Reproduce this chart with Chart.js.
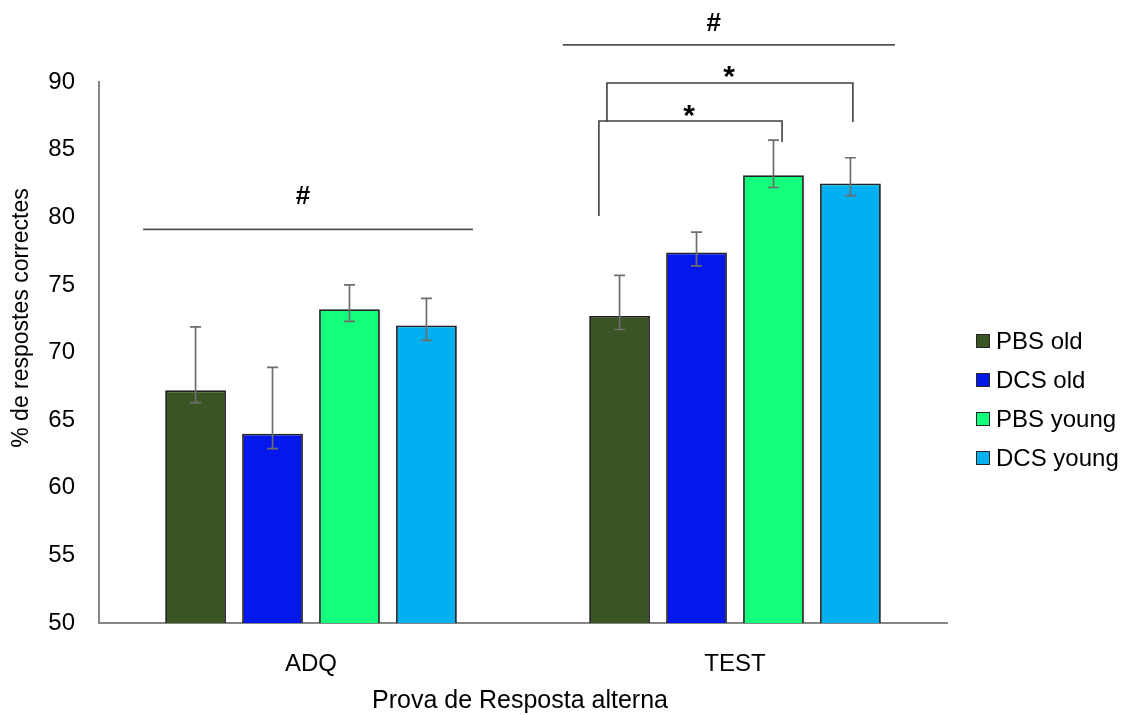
<!DOCTYPE html>
<html>
<head>
<meta charset="utf-8">
<script src="https://cdn.jsdelivr.net/npm/chart.js@4.4.1/dist/chart.umd.min.js"></script>
<style>
  html, body { margin: 0; padding: 0; background: #ffffff; }
  #wrap { width: 1126px; height: 715px; position: relative; }
</style>
</head>
<body>
<div id="wrap"><canvas id="chart" width="1126" height="715"></canvas></div>
<script>
// Categories and series
const categories = ['ADQ', 'TEST'];
const seriesNames = ['PBS old', 'DCS old', 'PBS young', 'DCS young'];
const seriesColors = ['#3a5424', '#0418ec', '#14ff7c', '#00b0f0'];

// Mean % of correct answers
const pbsOld   = [67.2, 72.7];
const dcsOld   = [64.0, 77.4];
const pbsYoung = [73.2, 83.1];
const dcsYoung = [72.0, 82.5];

// Error bar extents (above / below the mean)
const pbsOldErrUp     = [4.7, 3.0];
const pbsOldErrDown   = [0.9, 1.0];
const dcsOldErrUp     = [4.9, 1.5];
const dcsOldErrDown   = [1.1, 1.0];
const pbsYoungErrUp   = [1.8, 2.6];
const pbsYoungErrDown = [0.9, 0.9];
const dcsYoungErrUp   = [2.0, 1.9];
const dcsYoungErrDown = [1.1, 0.9];

// Y axis ticks
const yTicks = [50, 55, 60, 65, 70, 75, 80, 85, 90];

// Significance markers: x in category units, y in axis units
const hashLines = [
  { x0: -0.396, x1: 0.382, y: 79.1, labelX: -0.019, labelY: 81.5 },
  { x0: 0.594, x1: 1.377, y: 92.75, labelX: 0.95, labelY: 94.3 }
];
const brackets = [
  { x0: 0.698, x1: 1.278, y: 89.93, leftEnd: 87.04, rightEnd: 87.04, labelX: 0.986, labelY: 90.3 },
  { x0: 0.679, x1: 1.111, y: 87.12, leftEnd: 80.09, rightEnd: 85.56, labelX: 0.892, labelY: 87.45 }
];

const seriesValues = [pbsOld, dcsOld, pbsYoung, dcsYoung];
const errUp = [pbsOldErrUp, dcsOldErrUp, pbsYoungErrUp, dcsYoungErrUp];
const errDown = [pbsOldErrDown, dcsOldErrDown, pbsYoungErrDown, dcsYoungErrDown];

const FONT = '"Liberation Sans", Arial, sans-serif';

const datasets = seriesNames.map((name, i) => ({
  label: name,
  data: seriesValues[i],
  backgroundColor: seriesColors[i],
  borderColor: '#222222',
  borderWidth: 1.8,
  categoryPercentage: 0.726,
  barPercentage: 0.79,
  errUp: errUp[i],
  errDown: errDown[i]
}));

function catX(xScale, f) {
  const p0 = xScale.getPixelForValue(0);
  const p1 = xScale.getPixelForValue(1);
  return p0 + f * (p1 - p0);
}

const errorBars = {
  id: 'errorBars',
  afterDatasetsDraw(chart) {
    const ctx = chart.ctx;
    const y = chart.scales.y;
    ctx.save();
    ctx.strokeStyle = '#6e6e6e';
    ctx.lineWidth = 1.7;
    chart.data.datasets.forEach((ds, di) => {
      const meta = chart.getDatasetMeta(di);
      meta.data.forEach((bar, i) => {
        const v = ds.data[i];
        const yt = y.getPixelForValue(v + ds.errUp[i]);
        const yb = y.getPixelForValue(v - ds.errDown[i]);
        const cx = bar.x;
        ctx.beginPath();
        ctx.moveTo(cx, yt); ctx.lineTo(cx, yb);
        ctx.moveTo(cx - 5.5, yt); ctx.lineTo(cx + 5.5, yt);
        ctx.moveTo(cx - 5.5, yb); ctx.lineTo(cx + 5.5, yb);
        ctx.stroke();
      });
    });
    ctx.restore();
  }
};

const extras = {
  id: 'extras',
  afterDraw(chart) {
    const ctx = chart.ctx;
    const xs = chart.scales.x, ys = chart.scales.y;
    ctx.save();

    // "#" lines
    hashLines.forEach(h => {
      ctx.strokeStyle = '#505050';
      ctx.lineWidth = 1.8;
      const yy = ys.getPixelForValue(h.y);
      ctx.beginPath();
      ctx.moveTo(catX(xs, h.x0), yy); ctx.lineTo(catX(xs, h.x1), yy);
      ctx.stroke();
      ctx.fillStyle = '#000';
      ctx.font = 'bold 26px ' + FONT;
      ctx.textAlign = 'center'; ctx.textBaseline = 'middle';
      ctx.fillText('#', catX(xs, h.labelX), ys.getPixelForValue(h.labelY));
    });

    // "*" brackets
    brackets.forEach(b => {
      ctx.strokeStyle = '#404040';
      ctx.lineWidth = 1.6;
      const yy = ys.getPixelForValue(b.y);
      const xl = catX(xs, b.x0), xr = catX(xs, b.x1);
      ctx.beginPath();
      ctx.moveTo(xl, ys.getPixelForValue(b.leftEnd)); ctx.lineTo(xl, yy);
      ctx.lineTo(xr, yy); ctx.lineTo(xr, ys.getPixelForValue(b.rightEnd));
      ctx.stroke();
      ctx.fillStyle = '#000';
      ctx.font = 'bold 30px ' + FONT;
      ctx.textAlign = 'center'; ctx.textBaseline = 'middle';
      ctx.fillText('*', catX(xs, b.labelX), ys.getPixelForValue(b.labelY));
    });

    // Axis titles
    ctx.fillStyle = '#000';
    ctx.font = '25px ' + FONT;
    ctx.textAlign = 'center'; ctx.textBaseline = 'middle';
    ctx.fillText('Prova de Resposta alterna', 520, 701);
    ctx.font = '23px ' + FONT;
    ctx.save();
    ctx.translate(22, 318);
    ctx.rotate(-Math.PI / 2);
    ctx.fillText('% de respostes correctes', 0, 0);
    ctx.restore();

    // Legend
    chart.data.datasets.forEach((ds, i) => {
      const cy = 341 + i * 39;
      ctx.fillStyle = ds.backgroundColor;
      ctx.fillRect(976, cy - 7, 14, 14);
      ctx.strokeStyle = '#262626';
      ctx.lineWidth = 1;
      ctx.strokeRect(976.5, cy - 6.5, 13, 13);
      ctx.fillStyle = '#000';
      ctx.font = '24px ' + FONT;
      ctx.textAlign = 'left'; ctx.textBaseline = 'middle';
      ctx.fillText(ds.label, 996, cy + 1);
    });
    ctx.restore();
  }
};

new Chart(document.getElementById('chart'), {
  type: 'bar',
  data: { labels: categories, datasets },
  plugins: [errorBars, extras],
  options: {
    responsive: false,
    animation: false,
    layout: { padding: { left: 0, top: 82, right: 179, bottom: 0 } },
    plugins: { legend: { display: false }, tooltip: { enabled: false } },
    scales: {
      x: {
        grid: { display: false, drawTicks: false },
        border: { display: true, color: '#868686', width: 2 },
        ticks: { color: '#000', font: { family: FONT, size: 24 }, padding: 27 },
        afterFit(scale) { scale.height = 92; }
      },
      y: {
        min: 50, max: 90,
        grid: { display: false, drawTicks: false },
        border: { display: true, color: '#868686', width: 2 },
        afterBuildTicks(scale) { scale.ticks = yTicks.map(v => ({ value: v })); },
        ticks: { color: '#000', font: { family: FONT, size: 24 }, padding: 24 },
        afterFit(scale) { scale.width = 99; }
      }
    }
  }
});
</script>
</body>
</html>
